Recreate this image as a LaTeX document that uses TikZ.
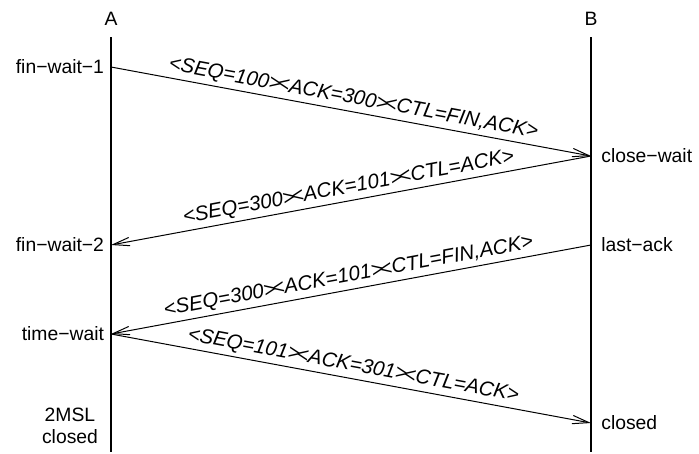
\documentclass[tikz,border=0pt]{standalone}
\usepackage{fontspec}
\setmainfont{Liberation Sans}
\usetikzlibrary{arrows.meta, positioning}
\newcommand{\gt}{>\kern-0.15em<}

\begin{document}
\begin{tikzpicture}[
  x=0.6pt, y=-0.6pt,
  font=\fontsize{11.6}{13.5}\selectfont,
  lifeline/.style={line width=1.2pt},
  msg/.style={line width=0.6pt, -{Straight Barb[length=10pt, width=5pt]}},
  msglabel/.style={midway, above, sloped, inner sep=2pt, font=\itshape\fontsize{12.3}{14}\selectfont},
  stateleft/.style={left, inner sep=4pt},
  stateright/.style={right, inner sep=6pt}
]
  \useasboundingbox (0,0) rectangle (699,453);

  % lifelines
  \node (A) at (111,19) {A};
  \node (B) at (591,19) {B};
  \coordinate (Atop) at (111,37);
  \coordinate (Abot) at (111,452);
  \coordinate (Btop) at (591,37);
  \coordinate (Bbot) at (591,452);
  \draw[lifeline] (Atop) -- (Abot);
  \draw[lifeline] (Btop) -- (Bbot);

  % events
  \coordinate (a1) at (111,67);
  \coordinate (b1) at (591,156);
  \coordinate (a2) at (111,245);
  \coordinate (b2) at (591,245);
  \coordinate (a3) at (111,334);
  \coordinate (b3) at (591,423);

  % states
  \node[stateleft] (finwait1) at (a1) {fin−wait−1};
  \node[stateleft] (finwait2) at (a2) {fin−wait−2};
  \node[stateleft] (timewait) at (a3) {time−wait};
  \node[align=center] (msl) at (70,426) {2MSL\\closed};
  \node[stateright] (closewait) at (b1) {close−wait};
  \node[stateright] (lastack) at (b2) {last−ack};
  \node[stateright] (closedB) at (b3) {closed};

  % segments
  \draw[msg] (a1) -- (b1) node[msglabel] {<SEQ=100\gt ACK=300\gt CTL=FIN,ACK>};
  \draw[msg] (b1) -- (a2) node[msglabel] {<SEQ=300\gt ACK=101\gt CTL=ACK>};
  \draw[msg] (b2) -- (a3) node[msglabel] {<SEQ=300\gt ACK=101\gt CTL=FIN,ACK>};
  \draw[msg] (a3) -- (b3) node[msglabel] {<SEQ=101\gt ACK=301\gt CTL=ACK>};
\end{tikzpicture}
\end{document}
